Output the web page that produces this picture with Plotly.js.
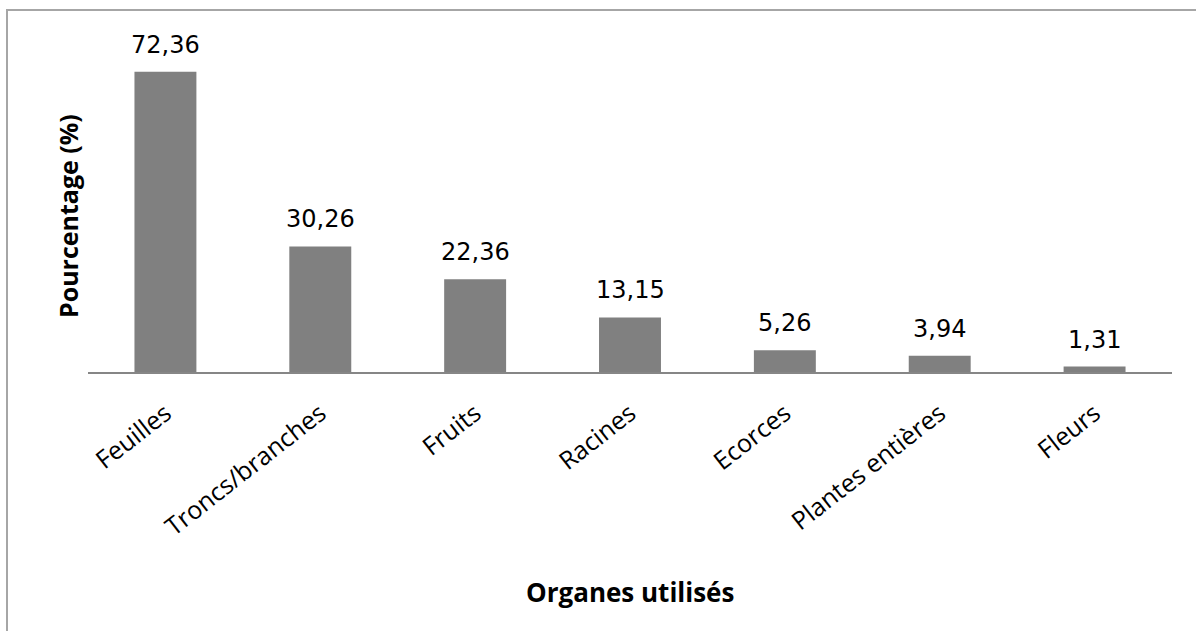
<!DOCTYPE html>
<html>
<head>
<meta charset="utf-8">
<script src="https://cdn.plot.ly/plotly-3.0.1.min.js"></script>
<style>html,body{margin:0;padding:0;background:#fff;}#chart{width:1196px;height:631px;}</style>
</head>
<body>
<div id="chart"></div>
<script>
const categories = ["Feuilles", "Troncs/branches", "Fruits", "Racines", "Ecorces", "Plantes entières", "Fleurs"];
const values = [72.36, 30.26, 22.36, 13.15, 5.26, 3.94, 1.31];
const valueLabels = ["72,36", "30,26", "22,36", "13,15", "5,26", "3,94", "1,31"];
const xTitle = "Organes utilisés";
const yTitle = "Pourcentage (%)";

const W = 1196, H = 631, L = 88, R = 24, T = 40, B = 259;
const pw = W - L - R, ph = H - T - B;
const px = v => (v - L) / pw;
const py = v => (H - B - v) / ph;

const trace = {
  type: "bar",
  x: categories,
  y: values,
  marker: {color: "#808080"},
  hoverinfo: "skip"
};

const annotations = categories.map((c, i) => ({
  x: c, y: values[i], xref: "x", yref: "y",
  text: valueLabels[i], showarrow: false,
  yanchor: "bottom", yshift: 11,
  font: {family: "DejaVu Sans, sans-serif", size: 24, color: "#000"}
}));
annotations.push({
  x: 0.5, y: py(592), xref: "paper", yref: "paper",
  text: "<b>" + xTitle + "</b>", showarrow: false,
  xanchor: "center", yanchor: "middle",
  font: {family: "Open Sans, sans-serif", size: 26, color: "#000"}
});
annotations.push({
  x: px(68), y: py(216), xref: "paper", yref: "paper",
  text: "<b>" + yTitle + "</b>", showarrow: false, textangle: -90,
  xanchor: "center", yanchor: "middle",
  font: {family: "Open Sans, sans-serif", size: 25, color: "#000"}
});

const layout = {
  width: W, height: H,
  margin: {l: L, r: R, t: T, b: B},
  paper_bgcolor: "#fff", plot_bgcolor: "#fff",
  showlegend: false,
  bargap: 0.6,
  xaxis: {
    type: "category",
    showline: true, linecolor: "#868686", linewidth: 2,
    ticks: "", tickangle: -38, ticklabelstandoff: 15,
    tickfont: {family: "Open Sans, sans-serif", size: 25, color: "#000"},
    showgrid: false, zeroline: false, fixedrange: true
  },
  yaxis: {
    range: [0, 80],
    showticklabels: false, ticks: "", showgrid: false, zeroline: false,
    showline: false, fixedrange: true
  },
  annotations: annotations,
  shapes: [{
    type: "rect", xref: "paper", yref: "paper",
    x0: px(7), x1: px(1205), y0: py(640), y1: py(10),
    line: {color: "#a6a6a6", width: 2}, fillcolor: "rgba(0,0,0,0)", layer: "below"
  }]
};

Plotly.newPlot("chart", [trace], layout, {displayModeBar: false, staticPlot: true});
</script>
</body>
</html>
